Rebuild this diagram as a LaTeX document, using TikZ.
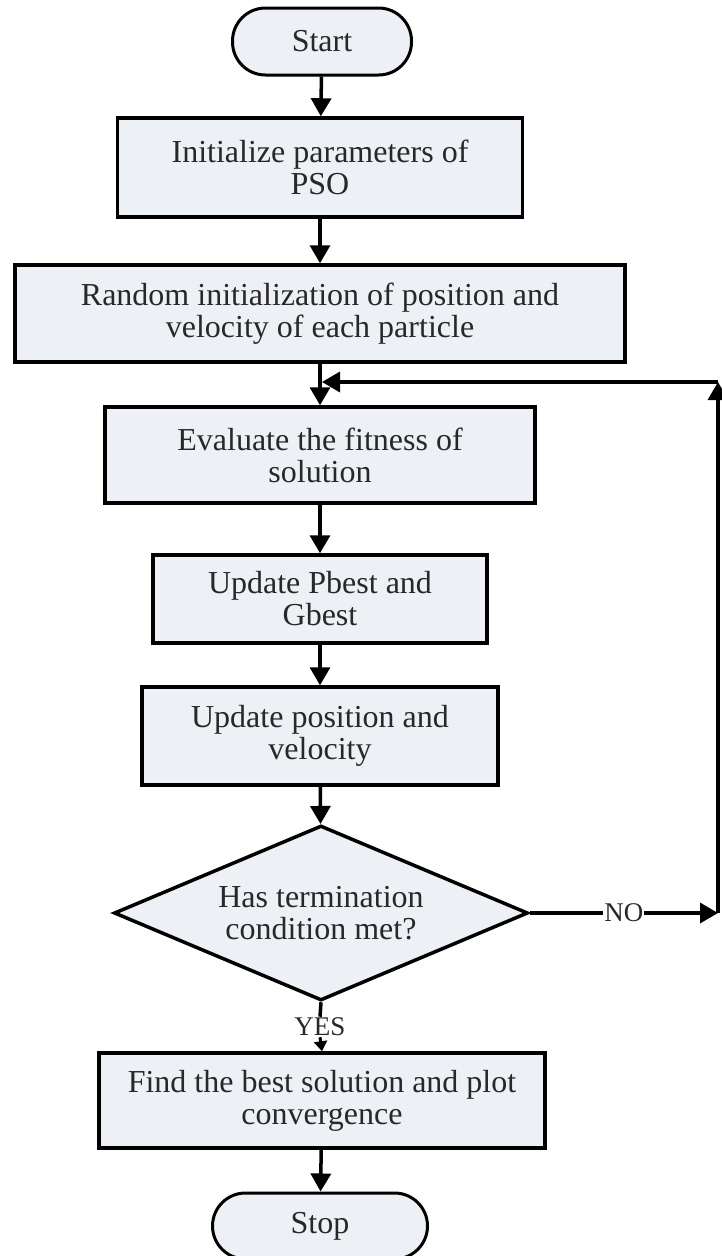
\documentclass[tikz,border=0pt]{standalone}
\usepackage{fontspec}
\setmainfont{Liberation Serif}
\usetikzlibrary{arrows.meta,shapes.geometric}
\definecolor{boxfill}{RGB}{237,240,245}
\definecolor{ink}{RGB}{40,40,40}
\begin{document}
\begin{tikzpicture}[x=1pt,y=-1pt,
  every node/.style={text=ink},
  txt/.style={font=\fontsize{32}{32}\selectfont},
  proc/.style={txt, draw=black, line width=3.5pt, fill=boxfill, align=center, inner sep=0pt},
  term/.style={txt, draw=black, line width=3pt, fill=boxfill, rounded corners=33pt, inner sep=0pt},
  decision/.style={txt, draw=black, line width=3.5pt, fill=boxfill, align=center,
    diamond, shape aspect=2.37, inner sep=2pt},
  flow/.style={draw=black, line width=3.5pt, -{Triangle[length=18pt,width=20pt]}},
  plain/.style={draw=black, line width=3.5pt},
  smallflow/.style={draw=black, line width=3pt, -{Triangle[length=10pt,width=13pt]}},
  lbl/.style={font=\fontsize{27}{27}\selectfont, fill=white, inner sep=1pt}
]
\useasboundingbox (0,0) rectangle (722,1256);

% process chain
\node[term, minimum width=179pt, minimum height=67pt] (start) at (322,41.5) {Start};
\node[proc, minimum width=405pt, minimum height=99pt] (init) at (320,167.5)
  {Initialize parameters of\\PSO};
\node[proc, minimum width=610pt, minimum height=97pt] (rand) at (320,313.5)
  {Random initialization of position and\\velocity of each particle};
\node[proc, minimum width=430pt, minimum height=96pt] (eval) at (320,455)
  {Evaluate the fitness of\\solution};
\node[proc, minimum width=334pt, minimum height=88pt] (best) at (320,599)
  {Update Pbest and\\Gbest};
\node[proc, minimum width=356pt, minimum height=98pt] (upd) at (320,736)
  {Update position and\\velocity};
\node[decision, minimum width=414pt, minimum height=175pt] (dec) at (321,913)
  {Has termination\\condition met?};
\node[lbl] (yes) at (320,1027) {YES};
\node[proc, minimum width=446pt, minimum height=95pt] (find) at (322,1100.5)
  {Find the best solution and plot\\convergence};
\node[term, minimum width=215pt, minimum height=66pt] (stop) at (320,1226) {Stop};

% loop-back route
\coordinate (corner) at (718,913);
\coordinate (top) at (718,382);
\coordinate (join) at (322,382);

% connectors
\draw[flow] (start) -- (init);
\draw[flow] (init) -- (rand);
\draw[flow] (rand) -- (eval);
\draw[flow] (eval) -- (best);
\draw[flow] (best) -- (upd);
\draw[flow] (upd) -- (dec);
\draw[plain] (dec.south) -- (yes.north);
\draw[smallflow] (yes.south) -- (find.north);
\draw[flow] (find) -- (stop);
\draw[flow] (dec.east) -- node[lbl, pos=0.5] {NO} (corner);
\draw[flow] (corner) -- (top);
\draw[flow] (top) -- (join);
\end{tikzpicture}
\end{document}
